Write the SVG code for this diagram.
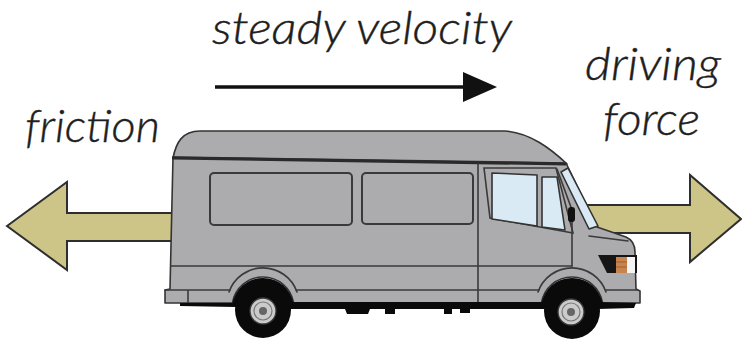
<svg xmlns="http://www.w3.org/2000/svg" width="742" height="342" viewBox="0 0 742 342">
  <defs>
    <style>
      .label { font-family: Lato, "Open Sans", "DejaVu Sans", sans-serif; font-style: italic; font-weight: 300; font-size: 45px; fill: #1e1e1e; stroke: #1e1e1e; stroke-width: 0.4; }
      .force { fill: #cdc488; stroke: #2e2e2e; stroke-width: 2; stroke-linejoin: miter; }
      .body { fill: #acacae; stroke: #333; stroke-width: 1.6; stroke-linejoin: round; }
      .line { fill: none; stroke: #3a3a3a; stroke-width: 1.6; stroke-linecap: round; }
      .glass { fill: #d9eaf5; stroke: #333; stroke-width: 1.6; stroke-linejoin: round; }
      .tire { fill: #0a0a0a; }
      .hub { fill: #cbcbcb; stroke: #3a3a3a; stroke-width: 1.3; }
    </style>
  </defs>
  <rect width="742" height="342" fill="#ffffff"/>

  <!-- labels -->
  <g id="label-velocity">
    <text class="label" x="212" y="44" textLength="300" lengthAdjust="spacingAndGlyphs">steady velocity</text>
  </g>
  <g id="label-friction">
    <text class="label" x="25" y="142" textLength="135" lengthAdjust="spacingAndGlyphs">friction</text>
  </g>
  <g id="label-driving">
    <text class="label" x="585" y="80" textLength="136" lengthAdjust="spacingAndGlyphs">driving</text>
    <text class="label" x="603" y="135" textLength="97" lengthAdjust="spacingAndGlyphs">force</text>
  </g>

  <!-- velocity arrow -->
  <g id="arrow-velocity">
    <line x1="215" y1="87" x2="468" y2="87" stroke="#111" stroke-width="3.5"/>
    <polygon points="463,72 497,87 463,102" fill="#111"/>
  </g>

  <!-- force arrows (drawn behind the van) -->
  <g id="arrow-friction">
    <polygon class="force" points="7,226 67,182 67,213 178,213 178,241 67,241 67,270"/>
  </g>
  <g id="arrow-driving">
    <polygon class="force" points="578,205 690,205 690,175 741,219 690,262 690,233 578,233"/>
  </g>

  <!-- van -->
  <g id="van">
    <!-- roof cap -->
    <path class="body" d="M173,158 C176,143 182,131 200,131 L505,131 C530,133 550,148 567,164 Z"/>
    <!-- main body, wheel openings cut at the well radius -->
    <path class="body" d="M173,157 L566,163 L597,227 L626,237 Q635,241 635,252 L636,289 L640,291 L640,303 L602.6,303 A31,31 0 0 0 541.4,303 L293.6,303 A31,31 0 0 0 232.4,303 L165,303 L165,290 L170,289 Z"/>
    <!-- roof drip rail -->
    <line x1="172" y1="158" x2="566" y2="164" stroke="#2a2a2a" stroke-width="3"/>

    <!-- side windows -->
    <rect x="210" y="173" width="142" height="52" rx="4" fill="none" stroke="#3a3a3a" stroke-width="2"/>
    <rect x="362" y="173" width="111" height="51" rx="4" fill="none" stroke="#3a3a3a" stroke-width="2"/>

    <!-- door and body lines -->
    <line class="line" x1="478" y1="164" x2="478" y2="303"/>
    <line class="line" x1="171" y1="266" x2="572" y2="266"/>
    <line class="line" x1="572" y1="214" x2="572" y2="266"/>
    <line class="line" x1="296" y1="290" x2="539" y2="290"/>
    <path class="line" d="M165,290 L230,290 M188,290 L188,303"/>
    <path class="line" d="M606,290 L637,290"/>

    <!-- fender lips -->
    <path class="line" d="M229,292 A36,36 0 0 1 297,292"/>
    <path class="line" d="M538,292 A36,36 0 0 1 606,292"/>

    <!-- cab window frame and glass -->
    <path class="line" d="M484,168 L556,168 L573,233 L490,218 Z"/>
    <polygon class="glass" points="492,173 537,175 537,226 492,219"/>
    <polygon class="glass" points="542,177 557,177 565,230 542,227"/>
    <polygon class="glass" points="561,172 568,168 598,226 589,229"/>
    <path class="line" d="M557,169 L572,210"/>
    <path class="line" d="M589,236 L628,241"/>
    <!-- mirror -->
    <rect x="568" y="207" width="7" height="15" rx="3" fill="#111"/>

    <!-- headlight -->
    <polygon points="598,255 637,255 637,273 607,273" fill="#151515"/>
    <rect x="616" y="257" width="11" height="16" fill="#c8844f"/>
    <line x1="616" y1="262" x2="627" y2="262" stroke="#9c5f33" stroke-width="1"/>
    <line x1="616" y1="267" x2="627" y2="267" stroke="#9c5f33" stroke-width="1"/>
    <rect x="627" y="257" width="8" height="16" fill="#f4f4f4"/>

    <!-- underbody -->
    <path fill="#0a0a0a" d="M288,302 L547,302 L547,309 L470,309 L470,313 L460,313 L460,309 L452,309 L452,314 L444,314 L444,309 L395,309 L395,314 L385,314 L385,309 L370,309 L368,314 L347,314 L345,309 L288,309 Z"/>
    <path fill="#0a0a0a" d="M598,302 L636,303 L634,308 L598,309 Z"/>
    <path fill="#0a0a0a" d="M180,303 L236,303 L236,307 L180,306 Z"/>

    <!-- wheel wells -->
    <path fill="#0a0a0a" d="M232.4,304 A31,31 0 0 1 293.6,304 Z"/>
    <path fill="#0a0a0a" d="M541.4,304 A31,31 0 0 1 602.6,304 Z"/>
  </g>

  <g id="wheel-rear">
    <circle class="tire" cx="263" cy="310" r="28"/>
    <circle class="hub" cx="263" cy="311" r="13"/>
    <circle cx="263" cy="311" r="9" fill="none" stroke="#777" stroke-width="1.2"/>
    <circle cx="263" cy="311" r="4" fill="#666"/>
  </g>
  <g id="wheel-front">
    <circle class="tire" cx="572" cy="311" r="28"/>
    <circle class="hub" cx="571" cy="312" r="13"/>
    <circle cx="571" cy="312" r="9" fill="none" stroke="#777" stroke-width="1.2"/>
    <circle cx="571" cy="312" r="4" fill="#666"/>
  </g>
</svg>
